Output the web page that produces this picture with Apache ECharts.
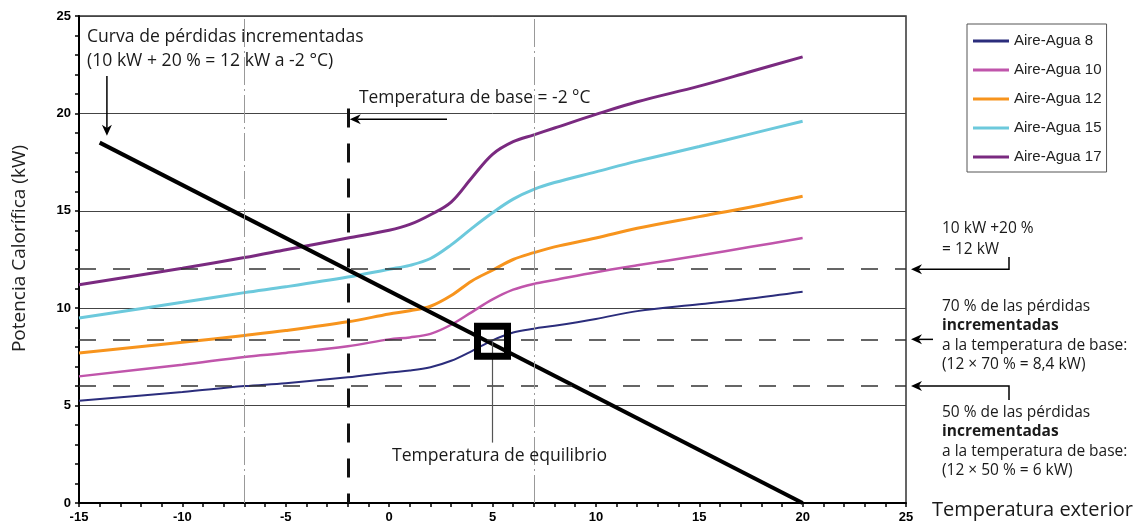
<!DOCTYPE html>
<html>
<head>
<meta charset="utf-8">
<script src="https://cdn.jsdelivr.net/npm/echarts@6/dist/echarts.min.js"></script>
<style>
  html, body { margin: 0; padding: 0; background: #fff; }
  #chart { width: 1138px; height: 531px; }
</style>
</head>
<body>
<div id="chart"></div>
<script>
// temperatura exterior (°C) donde se leen las curvas
const temps = [-15, -10, -7, -5, -2, 0, 1, 2, 3, 4, 5, 6, 7, 8, 10, 12, 15, 17.5, 20];
// potencia calorífica (kW) de cada bomba
const aa8  = [5.25, 5.7, 6.0, 6.15, 6.45, 6.7, 6.8, 6.97, 7.3, 7.8, 8.35, 8.75, 8.95, 9.1, 9.45, 9.85, 10.2, 10.5, 10.85];
const aa10 = [6.5, 7.1, 7.5, 7.7, 8.05, 8.4, 8.5, 8.68, 9.15, 9.8, 10.45, 10.95, 11.25, 11.45, 11.85, 12.2, 12.7, 13.15, 13.6];
const aa12 = [7.7, 8.25, 8.6, 8.85, 9.3, 9.7, 9.87, 10.1, 10.65, 11.4, 11.95, 12.5, 12.85, 13.15, 13.6, 14.1, 14.7, 15.2, 15.75];
const aa15 = [9.5, 10.3, 10.8, 11.1, 11.6, 12.0, 12.2, 12.55, 13.25, 14.1, 14.9, 15.6, 16.1, 16.45, 17.0, 17.55, 18.3, 18.95, 19.6];
const aa17 = [11.2, 12.05, 12.6, 13.0, 13.6, 14.0, 14.3, 14.8, 15.45, 16.7, 17.9, 18.55, 18.9, 19.25, 19.95, 20.6, 21.4, 22.15, 22.9];
const names = ['Aire-Agua 8', 'Aire-Agua 10', 'Aire-Agua 12', 'Aire-Agua 15', 'Aire-Agua 17'];

// curva de pérdidas incrementadas
const lossCurve = [[-14, 18.5], [20, 0]];
const refLevels = [12, 8.4, 6];     // kW
const baseTemp = -2;                // °C
const guideTemps = [-7, 7];
const equilibrium = [5, 8.3];

const colors = ['#2b2d7c', '#c055ab', '#f7941d', '#6cc9dc', '#7a2a80'];
const widths = [2, 2.5, 3, 3, 3];
const curves = [aa8, aa10, aa12, aa15, aa17];

const txtFont = '"Open Sans", "Noto Sans", sans-serif';
const axFont = '"Liberation Sans", Arial, sans-serif';

var myChart = echarts.init(document.getElementById('chart'));

var series = curves.map(function (vals, k) {
    return {
        name: names[k],
        type: 'line',
        smooth: 0.35,
        showSymbol: false,
        symbol: 'none',
        z: 3,
        lineStyle: { color: colors[k], width: widths[k] },
        itemStyle: { color: colors[k] },
        data: temps.map(function (t, i) { return [t, vals[i]]; })
    };
});

series.push({
    name: 'pérdidas',
    type: 'line',
    symbol: 'none',
    z: 4,
    lineStyle: { color: '#000', width: 4 },
    data: lossCurve,
    markLine: {
        silent: true,
        symbol: 'none',
        label: { show: false },
        data: refLevels.map(function (v) {
            return { yAxis: v, lineStyle: { color: '#333', width: 1.5, type: [17, 17] } };
        }).concat(guideTemps.map(function (t) {
            return { xAxis: t, lineStyle: { color: '#999', width: 1, type: [28, 4, 2, 4] } };
        })).concat([
            [{ coord: [baseTemp, 20.25], lineStyle: { color: '#111', width: 3, type: [19, 16] } }, { coord: [baseTemp, 0] }],
            [{ coord: [equilibrium[0], equilibrium[1]], lineStyle: { color: '#555', width: 1.2, type: 'solid' } }, { coord: [equilibrium[0], 3.1] }]
        ])
    }
});

series.push({
    name: 'equilibrio',
    type: 'scatter',
    symbol: 'rect',
    symbolSize: 30,
    z: 6,
    itemStyle: { color: 'rgba(0,0,0,0)', borderColor: '#000', borderWidth: 7, opacity: 1 },
    data: [equilibrium]
});

const option = {
    backgroundColor: '#fff',
    animation: false,
    grid: {
        left: 79, right: 232, top: 16, bottom: 28,
        show: true, borderColor: '#333', borderWidth: 1.5
    },
    legend: {
        data: names,
        orient: 'vertical',
        left: 967, top: 24,
        icon: 'rect',
        itemWidth: 36, itemHeight: 3, itemGap: 11,
        padding: [8, 5, 6, 6],
        borderColor: '#555', borderWidth: 1,
        backgroundColor: '#fff',
        textStyle: { fontFamily: axFont, fontSize: 15, color: '#222', lineHeight: 18 }
    },
    xAxis: {
        type: 'value',
        min: -15, max: 25, interval: 5,
        axisLine: { onZero: false, lineStyle: { color: '#000', width: 2 } },
        axisTick: { length: 4, lineStyle: { color: '#000', width: 1.5 } },
        minorTick: { show: true, splitNumber: 5, length: 4, lineStyle: { color: '#000', width: 1.5 } },
        axisLabel: { fontFamily: axFont, fontSize: 13, fontWeight: 'bold', color: '#000', margin: 8 },
        splitLine: { show: false }
    },
    yAxis: {
        type: 'value',
        min: 0, max: 25, interval: 5,
        name: 'Potencia Calorífica (kW)',
        nameLocation: 'middle',
        nameGap: 50,
        nameTextStyle: { fontFamily: txtFont, fontSize: 19, color: '#222', padding: [0, 0, 0, 22] },
        axisLine: { show: true, onZero: false, lineStyle: { color: '#000', width: 2 } },
        axisTick: { length: 4, lineStyle: { color: '#000', width: 1.5 } },
        minorTick: { show: true, splitNumber: 5, length: 4, lineStyle: { color: '#000', width: 1.5 } },
        axisLabel: { fontFamily: axFont, fontSize: 13, fontWeight: 'bold', color: '#000', margin: 8 },
        splitLine: { show: true, lineStyle: { color: '#444', width: 1 } }
    },
    series: series
};
myChart.setOption(option);

// anotaciones
function px(x, y) { return myChart.convertToPixel({ gridIndex: 0 }, [x, y]); }

function arrow(points) {
    // polyline ending at the tip (last point), head pointing along last segment
    var n = points.length;
    var a = points[n - 2], b = points[n - 1];
    var dx = b[0] - a[0], dy = b[1] - a[1];
    var len = Math.sqrt(dx * dx + dy * dy);
    var ux = dx / len, uy = dy / len;
    var L = 11, W = 5;
    var base = [b[0] - ux * L, b[1] - uy * L];
    var notch = [b[0] - ux * L * 0.7, b[1] - uy * L * 0.7];
    var pl = points.slice(0, n - 1).concat([notch]);
    return [
        { type: 'polyline', silent: true, z: 10, shape: { points: pl }, style: { stroke: '#000', lineWidth: 1.5, fill: null } },
        { type: 'polygon', silent: true, z: 10, shape: { points: [
            b, [base[0] - uy * W, base[1] + ux * W], notch, [base[0] + uy * W, base[1] - ux * W]
        ] }, style: { fill: '#000' } }
    ];
}

function label(x, y, text, size, extra) {
    var st = { text: text, fill: '#1a1a1a', fontFamily: txtFont, fontSize: size, verticalAlign: 'middle' };
    if (extra) Object.assign(st, extra);
    return { type: 'text', x: x, y: y, z: 11, silent: true, style: st };
}

var bold = { fontFamily: txtFont, fontSize: 15.5, fontWeight: 'bold', lineHeight: 19.3 };
var lossStart = px(-13.65, 18.85);
var baseTip = px(baseTemp, 19.7);
var r12 = px(25, 12), r84 = px(25, 8.4), r6 = px(25, 6);
var gr = [];
gr = gr.concat(arrow([[lossStart[0], 76], lossStart]));
gr = gr.concat(arrow([[447, baseTip[1]], [baseTip[0] + 2, baseTip[1]]]));
gr = gr.concat(arrow([[1009, 257], [1009, r12[1]], [r12[0] + 5, r12[1]]]));
gr = gr.concat(arrow([[933, r84[1]], [r84[0] + 5, r84[1]]]));
gr = gr.concat(arrow([[1009, 400], [1009, r6[1]], [r6[0] + 5, r6[1]]]));
gr.push(label(87, 37, 'Curva de pérdidas incrementadas', 17.6));
gr.push(label(87, 61, '(10 kW + 20 % = 12 kW a -2 °C)', 17.6));
gr.push(label(359, 98, 'Temperatura de base = -2 °C', 17.4));
gr.push(label(392, 456, 'Temperatura de equilibrio', 17.6));
gr.push(label(932, 510, 'Temperatura exterior', 20));
gr.push(label(942, 217.5, '10 kW +20 %\n= 12 kW', 15.5, { verticalAlign: 'top', lineHeight: 21.7 }));
gr.push(label(942, 297, '70 % de las pérdidas\n{b|incrementadas}\na la temperatura de base:\n(12 × 70 % = 8,4 kW)', 15.5,
    { verticalAlign: 'top', lineHeight: 19.3, rich: { b: bold } }));
gr.push(label(942, 403, '50 % de las pérdidas\n{b|incrementadas}\na la temperatura de base:\n(12 × 50 % = 6 kW)', 15.5,
    { verticalAlign: 'top', lineHeight: 19.3, rich: { b: bold } }));
myChart.setOption({ graphic: gr });
</script>
</body>
</html>
